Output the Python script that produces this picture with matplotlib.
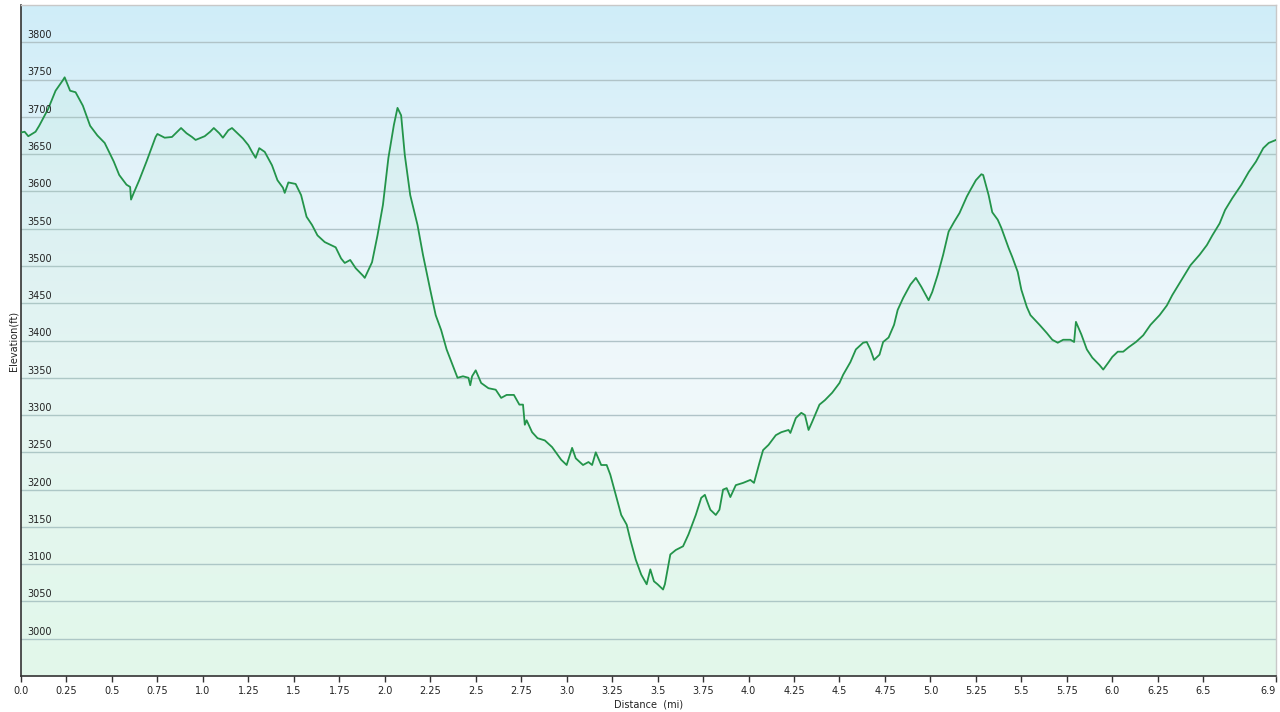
import matplotlib
matplotlib.use("Agg")
import matplotlib.pyplot as plt
import matplotlib.transforms as mtransforms
from matplotlib.colors import LinearSegmentedColormap
import numpy as np

# elevation profile (distance in mi, elevation in ft)
dist = [0.00, 0.02, 0.04, 0.08, 0.10, 0.15, 0.19, 0.23, 0.24, 0.27, 0.30, 0.34,
        0.38, 0.42, 0.46, 0.51, 0.54, 0.58, 0.60, 0.605, 0.62, 0.65, 0.69, 0.74,
        0.75, 0.79, 0.83, 0.88, 0.91, 0.94, 0.96, 1.01, 1.04, 1.06, 1.09, 1.11,
        1.14, 1.16, 1.19, 1.22, 1.25, 1.27, 1.29, 1.31, 1.34, 1.38, 1.41, 1.44,
        1.45, 1.47, 1.51, 1.54, 1.57, 1.60, 1.63, 1.67, 1.73, 1.76, 1.78, 1.81,
        1.84, 1.88, 1.89, 1.93, 1.96, 1.99, 2.02, 2.05, 2.07, 2.09, 2.11, 2.14,
        2.18, 2.21, 2.25, 2.28, 2.31, 2.34, 2.37, 2.40, 2.43, 2.46, 2.47, 2.48,
        2.50, 2.53, 2.57, 2.61, 2.64, 2.67, 2.71, 2.74, 2.76, 2.77, 2.78, 2.81,
        2.84, 2.88, 2.92, 2.97, 3.00, 3.03, 3.05, 3.09, 3.12, 3.14, 3.16, 3.19,
        3.22, 3.24, 3.27, 3.30, 3.33, 3.35, 3.38, 3.41, 3.44, 3.46, 3.48, 3.50,
        3.53, 3.54, 3.57, 3.60, 3.64, 3.67, 3.71, 3.74, 3.76, 3.77, 3.79, 3.82,
        3.84, 3.86, 3.88, 3.90, 3.93, 3.97, 4.01, 4.03, 4.06, 4.08, 4.11, 4.15,
        4.18, 4.22, 4.23, 4.26, 4.29, 4.31, 4.33, 4.35, 4.39, 4.42, 4.46, 4.50,
        4.52, 4.56, 4.59, 4.63, 4.65, 4.67, 4.69, 4.72, 4.74, 4.77, 4.80, 4.82,
        4.85, 4.89, 4.92, 4.95, 4.99, 5.01, 5.04, 5.07, 5.10, 5.13, 5.16, 5.20,
        5.22, 5.25, 5.28, 5.29, 5.32, 5.34, 5.37, 5.39, 5.43, 5.45, 5.48, 5.50,
        5.53, 5.55, 5.60, 5.64, 5.67, 5.70, 5.73, 5.77, 5.79, 5.80, 5.83, 5.86,
        5.89, 5.93, 5.95, 5.98, 6.00, 6.03, 6.06, 6.09, 6.13, 6.17, 6.21, 6.26,
        6.30, 6.33, 6.38, 6.43, 6.48, 6.52, 6.55, 6.59, 6.62, 6.66, 6.71, 6.75,
        6.79, 6.83, 6.86, 6.90]
elev = [3679, 3680, 3674, 3680, 3688, 3711, 3735, 3749, 3753, 3735, 3733, 3715,
        3688, 3675, 3665, 3640, 3622, 3609, 3606, 3589, 3598, 3615, 3640, 3673,
        3677, 3672, 3673, 3685, 3678, 3673, 3669, 3674, 3680, 3685, 3678, 3672,
        3682, 3685, 3678, 3671, 3662, 3653, 3645, 3658, 3653, 3635, 3615, 3605,
        3598, 3612, 3610, 3595, 3566, 3555, 3541, 3532, 3525, 3510, 3504, 3508,
        3497, 3487, 3484, 3505, 3541, 3582, 3645, 3689, 3712, 3702, 3649, 3595,
        3555, 3515, 3468, 3434, 3414, 3388, 3369, 3350, 3352, 3350, 3340, 3352,
        3360, 3343, 3336, 3334, 3323, 3327, 3327, 3314, 3314, 3287, 3293, 3277,
        3269, 3266, 3257, 3240, 3233, 3256, 3242, 3233, 3237, 3233, 3250, 3233,
        3233, 3220, 3193, 3166, 3153, 3133, 3106, 3086, 3073, 3093, 3077, 3073,
        3066, 3073, 3113, 3119, 3124, 3140, 3166, 3189, 3193, 3186, 3173, 3166,
        3173, 3200, 3202, 3190, 3206, 3209, 3213, 3209, 3236, 3253, 3260, 3273,
        3277, 3280, 3276, 3296, 3303, 3300, 3280, 3291, 3314, 3320, 3330, 3343,
        3354, 3371, 3388, 3397, 3398, 3388, 3374, 3381, 3398, 3404, 3421, 3441,
        3457, 3475, 3484, 3472, 3454, 3465, 3488, 3515, 3546, 3559, 3571, 3593,
        3602, 3615, 3623, 3622, 3595, 3572, 3562, 3551, 3524, 3512, 3492, 3468,
        3445, 3434, 3421, 3410, 3401, 3397, 3401, 3401, 3398, 3425, 3408, 3388,
        3377, 3367, 3361, 3371, 3378, 3385, 3385, 3391, 3398, 3407, 3421, 3434,
        3447, 3461, 3481, 3501, 3515, 3528, 3541, 3557, 3575, 3591, 3609, 3626,
        3640, 3658, 3665, 3669]

y_ticks = [3000, 3050, 3100, 3150, 3200, 3250, 3300, 3350, 3400, 3450,
           3500, 3550, 3600, 3650, 3700, 3750, 3800]
x_ticks = [0.0, 0.25, 0.5, 0.75, 1.0, 1.25, 1.5, 1.75, 2.0, 2.25, 2.5, 2.75,
           3.0, 3.25, 3.5, 3.75, 4.0, 4.25, 4.5, 4.75, 5.0, 5.25, 5.5, 5.75,
           6.0, 6.25, 6.5, 6.9]
x_labels = ["0.0", "0.25", "0.5", "0.75", "1.0", "1.25", "1.5", "1.75", "2.0",
            "2.25", "2.5", "2.75", "3.0", "3.25", "3.5", "3.75", "4.0", "4.25",
            "4.5", "4.75", "5.0", "5.25", "5.5", "5.75", "6.0", "6.25", "6.5", "6.9"]

xmin, xmax = 0.0, 6.9
ymin, ymax = 2950, 3850

fig = plt.figure(figsize=(12.8, 7.12), dpi=100)
ax = fig.add_axes([21 / 1280, 36 / 712, 1255 / 1280, 671 / 712])

# background gradient: light blue at top -> near white -> pale mint at bottom
bg = LinearSegmentedColormap.from_list(
    "bg", [(0.0, "#edfbf1"), (0.45, "#f0f8fb"), (0.75, "#e3f3fa"), (1.0, "#cfedf8")])
grad = np.linspace(0, 1, 256).reshape(-1, 1)
ax.imshow(grad, cmap=bg, aspect="auto", origin="lower",
          extent=[xmin, xmax, ymin, ymax], zorder=0)

# grid lines
for v in y_ticks:
    ax.axhline(v, color="#b0c3c8", lw=1.0, zorder=1)

# area under profile
ax.fill_between(dist, elev, ymin, color="#9ee3bd", alpha=0.13, lw=0, zorder=2)
ax.plot(dist, elev, color="#23944a", lw=1.3, zorder=3)

ax.set_xlim(xmin, xmax)
ax.set_ylim(ymin, ymax)

# y labels drawn inside the plot, just above each grid line
trans = mtransforms.blended_transform_factory(ax.transAxes, ax.transData)
for v in y_ticks:
    ax.annotate(str(v), xy=(0, v), xycoords=trans, xytext=(4.5, 1.5),
                textcoords="offset points", fontsize=7, color="#222222",
                ha="left", va="bottom")
ax.set_yticks([])
ax.set_ylabel("Elevation(ft)", fontsize=7, color="#222222", labelpad=2)

ax.set_xticks(x_ticks)
ax.set_xticklabels(x_labels, fontsize=7, color="#222222")
ax.get_xticklabels()[-1].set_horizontalalignment("right")
ax.tick_params(axis="x", direction="out", length=4, width=1, color="#333333", pad=3)
ax.set_xlabel("Distance  (mi)", fontsize=7, color="#222222", labelpad=3)

for s in ["left", "bottom"]:
    ax.spines[s].set_color("#333333")
    ax.spines[s].set_linewidth(1.2)
for s in ["top", "right"]:
    ax.spines[s].set_color("#c8c8c8")
    ax.spines[s].set_linewidth(1.0)

fig.savefig("out.png", dpi=100, facecolor="white")
